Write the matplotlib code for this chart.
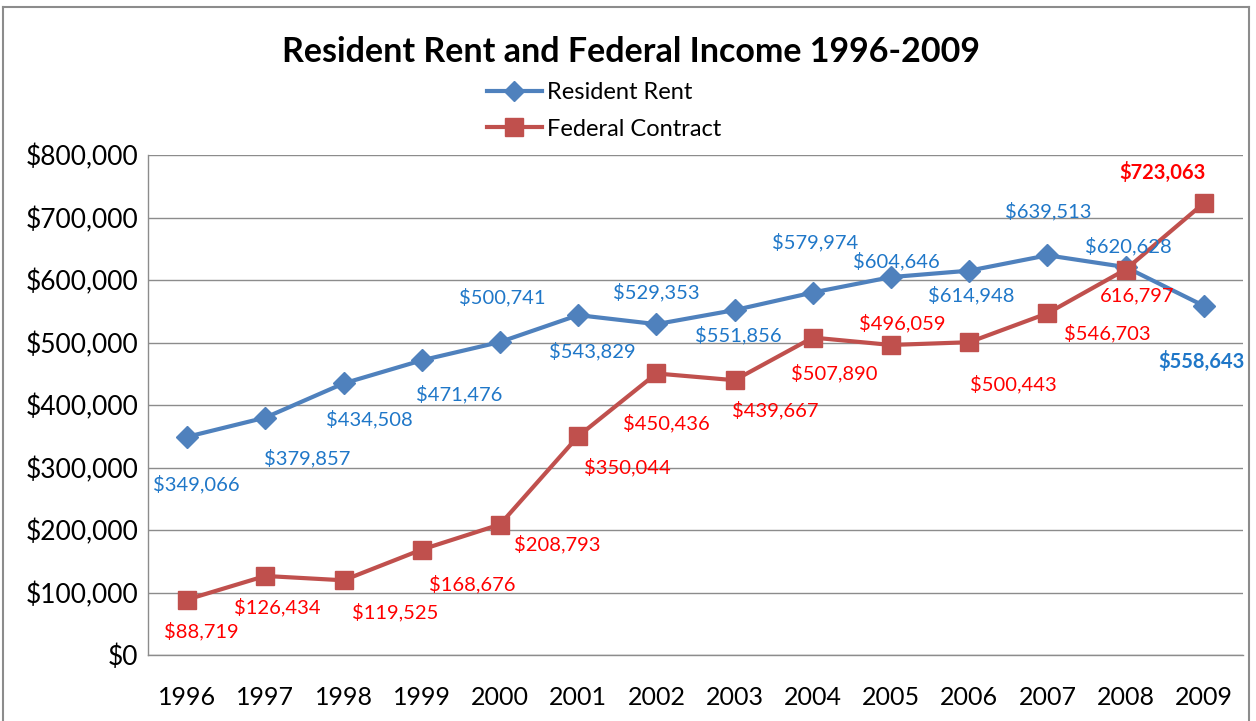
import matplotlib
matplotlib.use("Agg")
import matplotlib.pyplot as plt
from matplotlib.ticker import FuncFormatter
from matplotlib.lines import Line2D

years = ["1996", "1997", "1998", "1999", "2000", "2001", "2002",
         "2003", "2004", "2005", "2006", "2007", "2008", "2009"]
resident_rent = [349066, 379857, 434508, 471476, 500741, 543829, 529353,
                 551856, 579974, 604646, 614948, 639513, 620628, 558643]
federal_contract = [88719, 126434, 119525, 168676, 208793, 350044, 450436,
                    439667, 507890, 496059, 500443, 546703, 616797, 723063]
federal_labels = ["$88,719", "$126,434", "$119,525", "$168,676", "$208,793",
                  "$350,044", "$450,436", "$439,667", "$507,890", "$496,059",
                  "$500,443", "$546,703", "616,797", "$723,063"]

# label offsets in pixels (dx, dy with y downward)
rr_off = [(9, 47), (42, 40), (26, 36), (37, 34), (2, -45), (14, 36), (0, -32),
          (4, 25), (2, -50), (5, -16), (2, 24), (1, -44), (3, -21), (-2, 56)]
fc_off = [(14, 32), (12, 31), (52, 32), (50, 34), (57, 20), (49, 31), (10, 50),
          (41, 30), (21, 35), (11, -22), (44, 42), (60, 20), (11, 26), (-41, -31)]

FONT = "Lato"
BLUE = "#4F81BD"
RED = "#C0504D"
BLUE_T = "#1F77C8"
RED_T = "#FF0000"

fig = plt.figure(figsize=(12.56, 7.21), dpi=100)
ax = fig.add_axes([148/1256, 66/721, (1243-148)/1256, 500/721])

x = list(range(len(years)))
ax.plot(x, resident_rent, color=BLUE, lw=3.0, marker="D", ms=11,
        markerfacecolor=BLUE, markeredgecolor=BLUE, zorder=3)
ax.plot(x, federal_contract, color=RED, lw=3.0, marker="s", ms=13,
        markerfacecolor=RED, markeredgecolor=RED, zorder=3)

n = len(years)
for i in range(n):
    dx, dy = rr_off[i]
    ax.annotate("${:,}".format(resident_rent[i]), (x[i], resident_rent[i]),
                xytext=(dx, -dy), textcoords="offset pixels",
                ha="center", va="center", color=BLUE_T, fontsize=14.5,
                family=FONT, fontweight="bold" if i == n - 1 else "normal",
                zorder=4)
    dx, dy = fc_off[i]
    ax.annotate(federal_labels[i], (x[i], federal_contract[i]),
                xytext=(dx, -dy), textcoords="offset pixels",
                ha="center", va="center", color=RED_T, fontsize=14.5,
                family=FONT, fontweight="bold" if i == n - 1 else "normal",
                zorder=4)

ax.set_xlim(-0.5, n - 0.5)
ax.set_ylim(0, 800000)
ax.set_yticks(range(0, 800001, 100000))
ax.yaxis.set_major_formatter(FuncFormatter(lambda v, p: "${:,.0f}".format(v)))
ax.set_xticks(x)
ax.set_xticklabels(years)
ax.grid(axis="y", color="#8C8C8C", lw=1.0)
ax.set_axisbelow(True)
for s in ["top", "right"]:
    ax.spines[s].set_visible(False)
for s in ["left", "bottom"]:
    ax.spines[s].set_color("#8C8C8C")
    ax.spines[s].set_linewidth(1.0)
ax.tick_params(axis="both", length=0, colors="black")
ax.tick_params(axis="x", pad=22, labelsize=18)
ax.tick_params(axis="y", pad=7, labelsize=19)
for lab in ax.get_xticklabels() + ax.get_yticklabels():
    lab.set_family(FONT)

fig.text(631/1256, 1 - 52/721, "Resident Rent and Federal Income 1996-2009",
         ha="center", va="center", fontsize=24.5, fontweight="bold", family=FONT)

handles = [Line2D([], [], color=BLUE, lw=3, marker="D", ms=10),
           Line2D([], [], color=RED, lw=3, marker="s", ms=13)]
fig.legend(handles, ["Resident Rent", "Federal Contract"],
           loc="center left", bbox_to_anchor=(466/1256, 1 - 111/721),
           frameon=False, prop={"family": FONT, "size": 17},
           handlelength=2.3, labelspacing=0.65, handletextpad=0.25)

# figure border
for xs, ys in [((3/1256, 3/1256), (0, 1 - 7/721)),
               ((3/1256, 1249/1256), (1 - 7/721, 1 - 7/721)),
               ((1249/1256, 1249/1256), (0, 1 - 7/721))]:
    fig.add_artist(Line2D(xs, ys, color="#8C8C8C", lw=1.5))

fig.savefig("out.png", dpi=100)
